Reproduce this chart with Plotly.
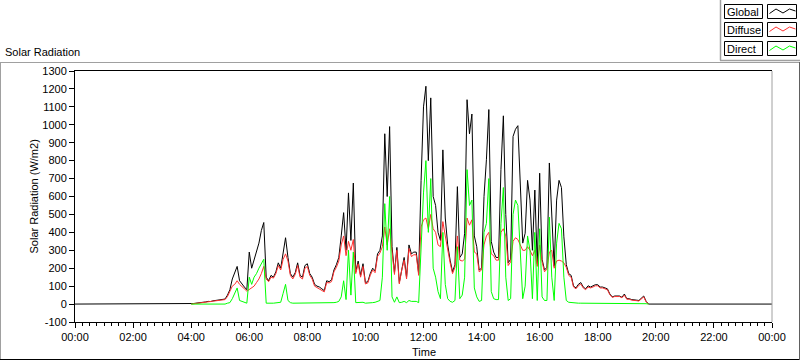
import numpy as np
import pandas as pd
import plotly.graph_objects as go

# ---- data: 5-minute samples, starting at 04:00 (W/m2) ----
global_wm2 = (
    [0, 3, 5, 6, 8, 10, 12, 15, 14, 18, 20, 22] +            # 04h
    [25, 30, 28, 50, 80, 140, 170, 210, 130, 110, 95, 80] +   # 05h
    [290, 200, 250, 290, 340, 410, 455, 150, 130, 160, 150, 180] +
    [230, 200, 300, 370, 260, 170, 150, 175, 230, 160, 150, 215] +
    [225, 170, 150, 110, 100, 95, 85, 75, 130, 125, 135, 190] +
    [220, 260, 380, 510, 300, 620, 355, 675, 180, 240, 160, 225] +
    [120, 125, 170, 200, 185, 280, 300, 380, 950, 600, 990, 320] +
    [175, 316, 120, 200, 260, 150, 330, 280, 290, 290, 170, 690] +
    [1100, 1215, 800, 1150, 600, 550, 400, 355, 860, 480, 330, 245] +
    [180, 220, 655, 260, 280, 395, 1140, 950, 1060, 380, 320, 190] +
    [200, 600, 805, 1085, 350, 290, 260, 260, 750, 1050, 500, 230] +
    [250, 935, 975, 995, 636, 340, 395, 690, 580, 300, 636, 225] +
    [730, 250, 190, 205, 787, 450, 210, 580, 690, 650, 375, 220] +
    [170, 160, 100, 90, 110, 120, 95, 85, 102, 95, 100, 108] +
    [108, 95, 95, 90, 85, 56, 40, 45, 47, 45, 38, 56] +
    [30, 30, 25, 25, 22, 20, 30, 45, 15, 0, 0, 0] +
    [0]                                                       # 20:00
)
diffuse_wm2 = (
    [0, 2, 4, 5, 6, 8, 10, 12, 12, 15, 17, 19] +
    [22, 26, 25, 42, 70, 100, 110, 130, 110, 95, 85, 72] +
    [80, 90, 100, 120, 140, 170, 210, 140, 125, 150, 145, 170] +
    [215, 190, 250, 280, 240, 160, 140, 165, 215, 150, 140, 200] +
    [210, 160, 140, 100, 92, 88, 78, 68, 120, 118, 125, 180] +
    [205, 240, 330, 380, 270, 350, 300, 360, 170, 225, 150, 210] +
    [112, 118, 160, 190, 175, 265, 285, 320, 430, 330, 420, 300] +
    [165, 300, 112, 190, 245, 140, 310, 265, 275, 275, 160, 430] +
    [470, 480, 420, 500, 420, 400, 330, 320, 460, 380, 300, 230] +
    [170, 205, 380, 245, 240, 250, 480, 440, 470, 290, 280, 180] +
    [190, 330, 380, 400, 280, 270, 245, 245, 400, 420, 380, 215] +
    [235, 350, 370, 360, 330, 300, 300, 320, 300, 270, 300, 210] +
    [330, 235, 180, 195, 290, 300, 200, 240, 245, 240, 230, 205] +
    [160, 150, 95, 85, 102, 112, 90, 80, 95, 90, 95, 102] +
    [102, 90, 90, 85, 80, 52, 37, 42, 44, 42, 35, 50] +
    [27, 27, 22, 22, 19, 17, 26, 40, 12, 0]                   # ends 19:45
)
direct_wm2 = (
    [0, 0, 0, 0, 0, 0, 0, 0, 0, 0, 0, 0] +
    [0, 0, 0, 5, 8, 30, 60, 90, 20, 15, 8, 5] +
    [150, 110, 150, 170, 200, 230, 250, 5, 3, 5, 5, 8] +
    [10, 10, 60, 110, 20, 8, 5, 5, 8, 5, 5, 8] +
    [8, 8, 6, 6, 5, 5, 5, 5, 8, 6, 6, 8] +
    [10, 15, 40, 130, 25, 300, 50, 290, 8, 10, 8, 10] +
    [5, 5, 8, 8, 10, 15, 20, 150, 560, 300, 600, 40] +
    [10, 40, 8, 10, 15, 8, 20, 15, 15, 15, 8, 300] +
    [620, 800, 400, 700, 200, 150, 70, 30, 400, 110, 30, 15] +
    [10, 20, 320, 30, 50, 150, 750, 550, 580, 90, 40, 15] +
    [20, 400, 450, 700, 70, 30, 25, 25, 450, 650, 150, 20] +
    [30, 500, 580, 550, 300, 30, 100, 380, 300, 30, 400, 20] +
    [420, 40, 20, 20, 485, 150, 20, 340, 450, 420, 150, 20] +
    [10, 8, 5, 5, 5, 5, 5, 5, 5, 5, 5, 5] +
    [5, 5, 3, 3, 3, 3, 3, 3, 3, 3, 3, 3] +
    [3, 3, 3, 3, 3, 3, 3, 3, 2, 0]                            # ends 19:45
)
night_wm2 = [0, 0]  # Global at 00:00 and 24:00

y_tick_vals = [-100, 0, 100, 200, 300, 400, 500, 600, 700, 800, 900, 1000, 1100, 1200, 1300]
y_tick_text = ["-100", "0", "100", "200", "300", "400", "500", "600", "700", "800",
               "900", "1000", "1100", "1200", "1300"]
series_names = ["Global", "Diffuse", "Direct"]
series_colors = ["#000000", "#ff3030", "#00ff00"]

# ---- time axis ----
day0 = pd.Timestamp("2000-01-01 00:00")
day1 = pd.Timestamp("2000-01-02 00:00")
start = pd.Timestamp("2000-01-01 04:00")
def times(n):
    return start + pd.to_timedelta(np.arange(n) * 5, unit="min")

t_global = [day0] + list(times(len(global_wm2))) + [day1]
v_global = [night_wm2[0]] + global_wm2 + [night_wm2[1]]

fig = go.Figure()
fig.add_trace(go.Scatter(x=t_global, y=v_global, mode="lines", name=series_names[0],
                         line=dict(color=series_colors[0], width=1)))
fig.add_trace(go.Scatter(x=times(len(diffuse_wm2)), y=diffuse_wm2, mode="lines", name=series_names[1],
                         line=dict(color=series_colors[1], width=1)))
fig.add_trace(go.Scatter(x=times(len(direct_wm2)), y=direct_wm2, mode="lines", name=series_names[2],
                         line=dict(color=series_colors[2], width=1)))

# ---- pixel helpers (plot area: x 75..772, y 71..322) ----
L, R, T, B = 75, 772, 71, 322
W, H = R - L, B - T
def px(x): return (x - L) / W
def py(y): return (B - y) / H

shapes = []
def line(x0, y0, x1, y1, color, width=1):
    shapes.append(dict(type="line", xref="paper", yref="paper",
                       x0=px(x0), y0=py(y0), x1=px(x1), y1=py(y1),
                       line=dict(color=color, width=width)))

# outer panel frame
line(0.5, 62, 0.5, 360, "#a0a0a0")
line(0, 62.5, 799, 62.5, "#a0a0a0")
line(0, 359.5, 799.5, 359.5, "#000000")
line(799.5, 62, 799.5, 360, "#606060")
# plot area right border (gray)
line(772, T, 772, B, "#a0a0a0")
# legend frame
line(720.5, 0, 720.5, 60.5, "#a0a0a0", 1.5)
line(720, 60.5, 800, 60.5, "#a0a0a0", 1.5)

annotations = []
rows = [4.5, 22.5, 41.5]
for name, color, top in zip(series_names, series_colors, rows):
    shapes.append(dict(type="rect", xref="paper", yref="paper",
                       x0=px(724.5), x1=px(762.5), y0=py(top), y1=py(top + 14),
                       line=dict(color="black", width=1), fillcolor="white"))
    shapes.append(dict(type="rect", xref="paper", yref="paper",
                       x0=px(767.5), x1=px(796.5), y0=py(top), y1=py(top + 14),
                       line=dict(color="black", width=1), fillcolor="white"))
    pts = [(769.5, top + 9), (776, top + 4.5), (783, top + 8.5), (789.5, top + 4.5), (795.5, top + 6.5)]
    path = "M " + " L ".join(f"{px(a):.5f},{py(b):.5f}" for a, b in pts)
    shapes.append(dict(type="path", xref="paper", yref="paper", path=path,
                       line=dict(color=color, width=1)))
    annotations.append(dict(text=name, xref="paper", yref="paper", x=px(725), y=py(top + 7.5),
                            xanchor="left", yanchor="middle", showarrow=False,
                            font=dict(size=11, color="black")))

annotations.append(dict(text="Solar Radiation", xref="paper", yref="paper", x=px(3), y=py(52),
                        xanchor="left", yanchor="middle", showarrow=False,
                        font=dict(size=11, color="black")))
annotations.append(dict(text="Solar Radiation (W/m2)", xref="paper", yref="paper", x=px(33),
                        y=py((T + B) / 2), xanchor="center", yanchor="middle", textangle=-90,
                        showarrow=False, font=dict(size=11, color="black")))
annotations.append(dict(text="Time", xref="paper", yref="paper", x=px((L + R) / 2), y=py(352),
                        xanchor="center", yanchor="middle", showarrow=False,
                        font=dict(size=11, color="black")))

fig.update_layout(
    width=800, height=361,
    margin=dict(l=L, r=800 - R, t=T, b=361 - B),
    paper_bgcolor="white", plot_bgcolor="white",
    font=dict(family="Liberation Sans, Arial, sans-serif", size=11, color="black"),
    showlegend=False,
    shapes=shapes, annotations=annotations,
    xaxis=dict(type="date", range=[day0, day1], tick0=day0, dtick=7200000,
               tickformat="%H:%M", ticks="outside", ticklen=5, tickcolor="black",
               showline=True, linecolor="black", linewidth=1, mirror=True,
               showgrid=False, zeroline=False,
               minor=dict(dtick=900000, tick0=day0, ticks="outside", ticklen=3,
                          tickcolor="black", showgrid=False)),
    yaxis=dict(range=[-100, 1300], tickvals=y_tick_vals, ticktext=y_tick_text,
               ticks="outside", ticklen=5, tickcolor="black",
               showline=True, linecolor="black", linewidth=1,
               showgrid=False, zeroline=False),
)

fig.write_html("out.html", config={"displayModeBar": False},
               post_script="document.body.style.margin='0';document.body.style.overflow='hidden';")
